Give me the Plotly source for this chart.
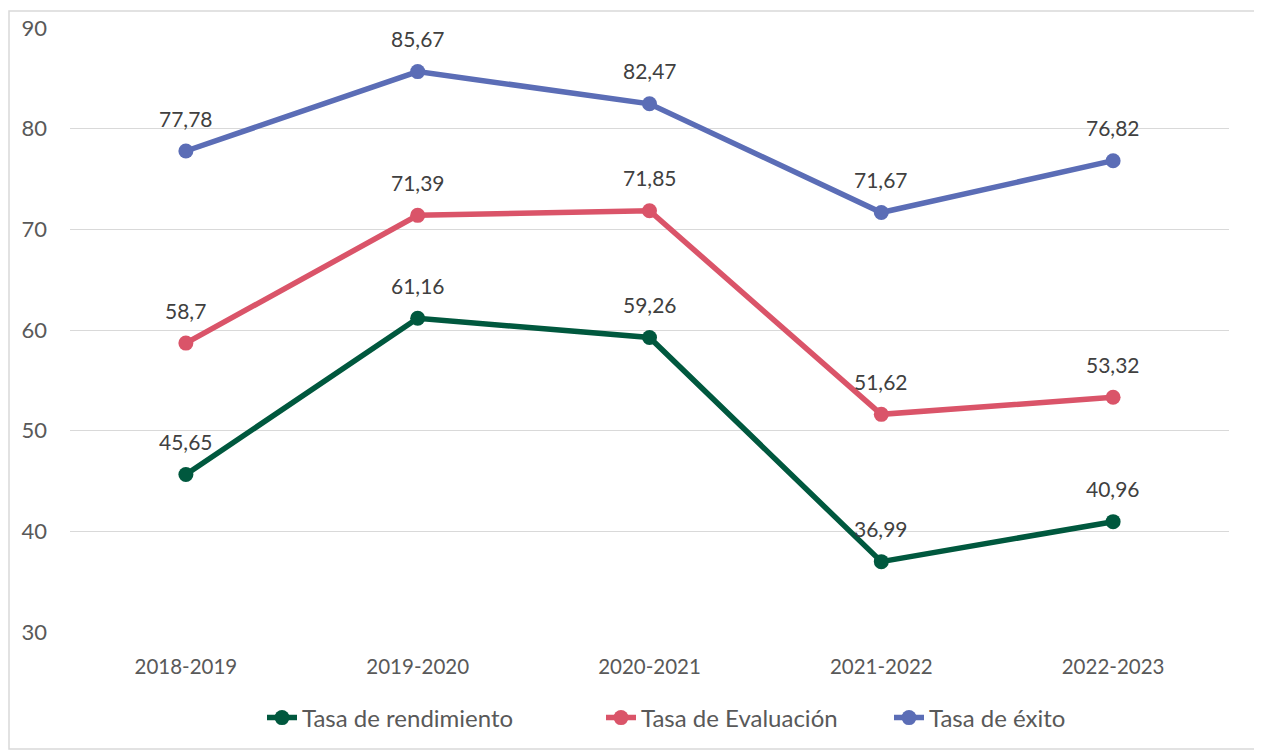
import plotly.graph_objects as go

cursos = ["2018-2019", "2019-2020", "2020-2021", "2021-2022", "2022-2023"]
rendimiento = [45.65, 61.16, 59.26, 36.99, 40.96]
evaluacion = [58.7, 71.39, 71.85, 51.62, 53.32]
exito = [77.78, 85.67, 82.47, 71.67, 76.82]

series = [
    ("Tasa de rendimiento", rendimiento, "#00583E"),
    ("Tasa de Evaluación", evaluacion, "#DA5469"),
    ("Tasa de éxito", exito, "#5B6DB6"),
]

FONT = "Lato, Noto Sans, sans-serif"

# page body has an 8px margin, so the figure is sized/offset for that
OFF = 8
W, H = 1262 - OFF, 751 - OFF
L, T = 70 - OFF, 28 - OFF
plot_right, plot_bottom = 1229 - OFF, 632 - OFF
R, B = W - plot_right, H - plot_bottom
pw, ph = plot_right - L, plot_bottom - T


def px_x(x):
    return (x - OFF - L) / pw


def px_y(y):
    return (plot_bottom - (y - OFF)) / ph


legend_x = [262, 601, 889]

fig = go.Figure()
annotations = []
for i, (name, vals, color) in enumerate(series):
    lg = "legend" if i == 0 else "legend%d" % (i + 1)
    fig.add_trace(go.Scatter(
        x=cursos, y=vals, mode="lines+markers", name=name, legend=lg,
        line=dict(color=color, width=5.5),
        marker=dict(color=color, size=15),
    ))
    # data labels above each point, decimal comma
    for c, v in zip(cursos, vals):
        annotations.append(dict(
            x=c, y=v, text=str(v).replace(".", ","), showarrow=False,
            yshift=33, font=dict(family=FONT, size=21, color="#404040"),
        ))

legends = {}
for i, lx in enumerate(legend_x):
    key = "legend" if i == 0 else "legend%d" % (i + 1)
    legends[key] = dict(
        orientation="h", x=px_x(lx), xanchor="left",
        y=px_y(718), yanchor="middle", bgcolor="rgba(0,0,0,0)",
        font=dict(family=FONT, size=24, color="#595959"),
    )

fig.update_layout(
    width=W, height=H,
    margin=dict(l=L, r=R, t=T, b=B, autoexpand=False),
    paper_bgcolor="white", plot_bgcolor="white",
    font=dict(family=FONT, size=20, color="#595959"),
    annotations=annotations,
    showlegend=True,
    shapes=[dict(
        type="rect", xref="paper", yref="paper",
        x0=px_x(9), x1=px_x(1260),
        y0=px_y(749), y1=px_y(11),
        line=dict(color="#D9D9D9", width=1.5),
    )],
    **legends,
)
fig.update_xaxes(
    type="category", range=[-0.5, 4.5], showgrid=False, showline=False,
    ticks="", ticklabelstandoff=20,
    tickfont=dict(family=FONT, size=20.5, color="#595959"),
)
fig.update_yaxes(
    range=[30, 90], dtick=10, showgrid=True, gridcolor="#D9D9D9", gridwidth=1.3,
    zeroline=False, showline=False, ticks="", ticklabelstandoff=22,
    tickfont=dict(family=FONT, size=22, color="#595959"),
)

fig.write_html("out.html")
